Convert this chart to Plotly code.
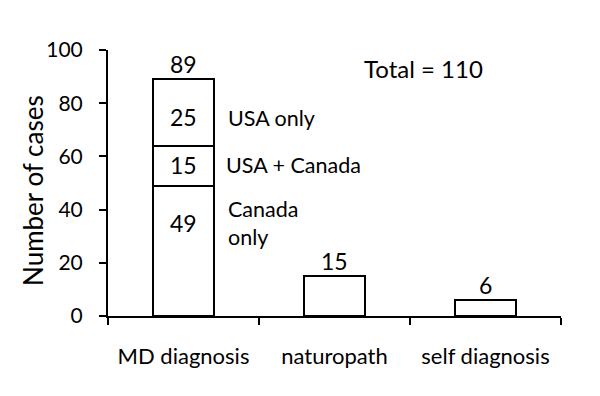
import plotly.graph_objects as go

categories = ["MD diagnosis", "naturopath", "self diagnosis"]
canada_only = [49, None, None]
usa_canada = [15, None, None]
usa_only = [25, None, None]
single = [None, 15, 6]
totals = [89, 15, 6]
segment_names = ["Canada only", "USA + Canada", "USA only"]
total_cases = 110
y_ticks = [0, 20, 40, 60, 80, 100]
y_title = "Number of cases"

FONT = "Lato"
NUM = dict(size=23, family=FONT, color="black")
LBL = dict(size=21.5, family=FONT, color="black")
bar_style = dict(color="white", line=dict(color="black", width=2))

fig = go.Figure()
for name, vals in [(segment_names[0], canada_only), (segment_names[1], usa_canada),
                   (segment_names[2], usa_only), ("single", single)]:
    fig.add_trace(go.Bar(x=categories, y=vals, name=name, marker=bar_style,
                         width=0.4, hoverinfo="skip", showlegend=False))

ann = []
for c, t in zip(categories, totals):
    ann.append(dict(x=c, y=t, text=str(t), showarrow=False, yanchor="bottom", yshift=-1,
                    font=NUM))
c0 = categories[0]
base = 0
seg_vals = [canada_only[0], usa_canada[0], usa_only[0]]
mids = []
for v in seg_vals:
    mids.append(base + v / 2)
    base += v
ann.append(dict(x=c0, y=seg_vals[0], text=str(seg_vals[0]), showarrow=False,
                yanchor="middle", yshift=-37, font=NUM))
ann.append(dict(x=c0, y=mids[1], text=str(seg_vals[1]), showarrow=False,
                yanchor="middle", yshift=1, font=NUM))
ann.append(dict(x=c0, y=mids[2], text=str(seg_vals[2]), showarrow=False,
                yanchor="middle", yshift=-4, font=NUM))
ann.append(dict(x=c0, y=mids[2], text=segment_names[2], showarrow=False, xanchor="left",
                xshift=42, yshift=-5, yanchor="middle", font=LBL))
ann.append(dict(x=c0, y=mids[1], text=segment_names[1], showarrow=False, xanchor="left",
                xshift=40, yshift=1, yanchor="middle", font=LBL))
ann.append(dict(x=c0, y=seg_vals[0], text="Canada<br>only", showarrow=False, xanchor="left",
                xshift=42, yshift=-8, yanchor="top", align="left", font=LBL))
ann.append(dict(xref="paper", yref="paper", x=0.56, y=0.93, text=f"Total = {total_cases}",
                showarrow=False, xanchor="left", yanchor="middle",
                font=dict(size=24, family=FONT, color="black")))
ann.append(dict(xref="paper", yref="paper", x=0, y=0.47, xshift=-75, text=y_title,
                textangle=-90, showarrow=False, xanchor="center", yanchor="middle",
                font=dict(size=26, family=FONT, color="black")))

fig.update_layout(
    barmode="stack",
    width=600, height=396,
    margin=dict(l=108, r=39, t=50, b=80),
    paper_bgcolor="white", plot_bgcolor="white",
    annotations=ann,
    xaxis=dict(showline=True, linecolor="black", linewidth=2, ticks="outside",
               tickson="boundaries", ticklen=7, tickwidth=2, tickcolor="black",
               showgrid=False, tickfont=dict(size=22, family=FONT, color="black"),
               ticklabelstandoff=20, zeroline=False),
    yaxis=dict(range=[0, 100], tickvals=y_ticks, showline=True, linecolor="black",
               linewidth=2, ticks="outside", ticklen=7, tickwidth=2, tickcolor="black",
               showgrid=False, zeroline=False, ticklabelstandoff=12,
               tickfont=dict(size=21, family=FONT, color="black")),
)
fig.write_html("out.html")
